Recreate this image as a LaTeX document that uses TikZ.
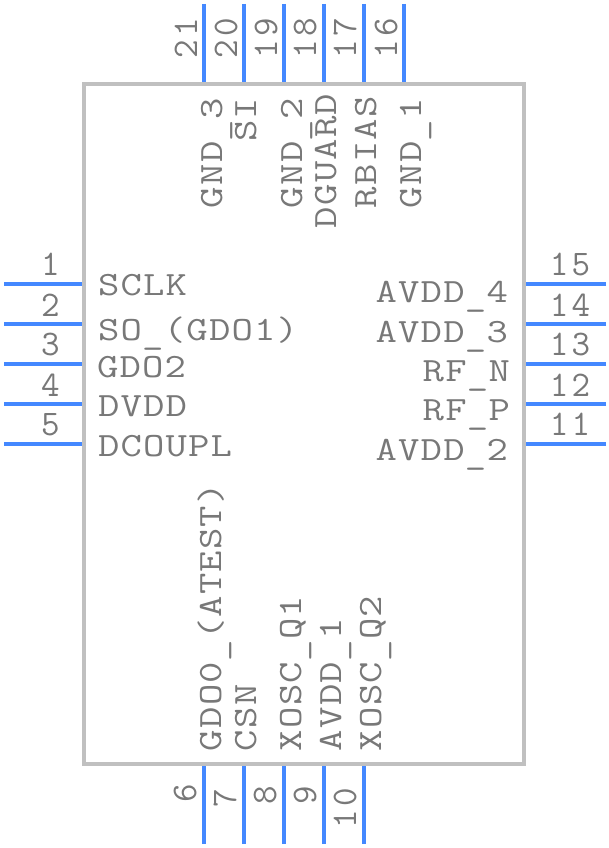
\documentclass[tikz,border=0pt]{standalone}
\usepackage{fontspec}
\newfontfamily\pinfont[FakeStretch=1.22,LetterSpace=3.5]{Latin Modern Mono}
\newfontfamily\numfont[LetterSpace=8.6]{Latin Modern Mono}
\definecolor{pinblue}{HTML}{4488FF}
\definecolor{boxgrey}{HTML}{C0C0C0}
\definecolor{txtgrey}{HTML}{787878}
\newcommand{\us}{\makebox[22pt][c]{\raisebox{-3.5pt}{\_}}}
\tikzset{
  lbl/.style={inner sep=0pt,outer sep=0pt,text=txtgrey,font=\pinfont\fontsize{34}{34}\selectfont},
  numlbl/.style={inner sep=0pt,outer sep=0pt,text=txtgrey,font=\numfont\fontsize{36}{36}\selectfont},
  lblw/.style={lbl,anchor=base west},
  lble/.style={lbl,anchor=base east},
  lblc/.style={numlbl,anchor=base},
  lblv/.style={lbl,anchor=base west,rotate=90},
  numv/.style={numlbl,anchor=base,rotate=90},
  pinline/.style={draw=pinblue,line width=4pt},
  icbox/.style={draw=boxgrey,line width=4pt,minimum width=440pt,minimum height=680pt,inner sep=0pt}
}
\begin{document}
\begin{tikzpicture}[x=1pt,y=-1pt]
\useasboundingbox (0,0) rectangle (608,848);
% pins
\foreach \n/\y in {1/284,2/324,3/364,4/404,5/444}{
  \coordinate (pa\n) at (4,\y); \coordinate (pb\n) at (82,\y);
  \draw[pinline] (pa\n) -- (pb\n);}
\foreach \n/\y in {15/284,14/324,13/364,12/404,11/444}{
  \coordinate (pa\n) at (606,\y); \coordinate (pb\n) at (526,\y);
  \draw[pinline] (pa\n) -- (pb\n);}
\foreach \n/\x in {21/204,20/244,19/284,18/324,17/364,16/404}{
  \coordinate (pa\n) at (\x,4); \coordinate (pb\n) at (\x,82);
  \draw[pinline] (pa\n) -- (pb\n);}
\foreach \n/\x in {6/204,7/244,8/284,9/324,10/364}{
  \coordinate (pa\n) at (\x,844); \coordinate (pb\n) at (\x,766);
  \draw[pinline] (pa\n) -- (pb\n);}
\node[icbox] (ic) at (304,424) {};
% left labels
\node[lblw] (l1) at (98,295) {SCLK};
\node[lblw] (l2) at (98,340) {SO\us(GDO1)};
\node[lblw] (l3) at (97,377) {GDO2};
\node[lblw] (l4) at (98,416) {DVDD};
\node[lblw] (l5) at (98,456) {DCOUPL};
% right labels
\node[lble] (l15) at (508,302) {AVDD\us4};
\node[lble] (l14) at (508,342) {AVDD\us3};
\node[lble] (l13) at (510,381) {RF\us N};
\node[lble] (l12) at (510,420) {RF\us P};
\node[lble] (l11) at (508,460) {AVDD\us2};
% top labels
\node[lblv] (l21) at (222,208) {GND\us3};
\node[lblv] (l20) at (256,142) {SI};
\node[lblv] (l18b) at (302,208) {GND\us2};
\node[lblv] (l18) at (336,228) {DGUARD};
\node[lblv] (l17) at (376,208) {RBIAS};
\node[lblv] (l16) at (421,208) {GND\us1};
% bottom labels
\node[lblv] (l6) at (221,751) {GDO0\us(ATEST)};
\node[lblv] (l7) at (256,751) {CSN};
\node[lblv] (l8) at (301,751) {XOSC\us Q1};
\node[lblv] (l9) at (341,751) {AVDD\us1};
\node[lblv] (l10) at (381,751) {XOSC\us Q2};
% numbers
\foreach \n/\y in {1/275,2/316,3/355,4/396,5/435}{\node[lblc] (n\n) at (50.5,\y) {\n};}
\foreach \n/\y in {15/275,14/316,13/355,12/396,11/435}{\node[lblc] (n\n) at (570,\y) {\n};}
\foreach \n/\x in {21/197,20/237,19/277,18/316,17/356,16/397}{\node[numv] (n\n) at (\x,38.5) {\n};}
\foreach \n/\x/\y in {6/196/793.5,7/236/798.5,8/276/795.5,9/316/795.5,10/356/808.5}{\node[numv] (n\n) at (\x,\y) {\n};}
\end{tikzpicture}
\end{document}
